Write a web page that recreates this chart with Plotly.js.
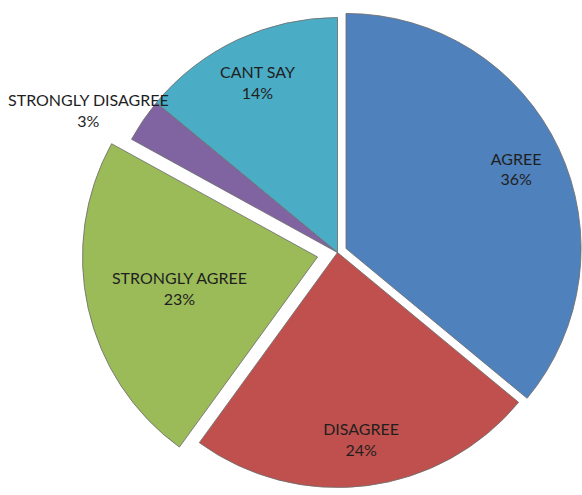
<!DOCTYPE html>
<html>
<head>
<meta charset="utf-8">
<script src="https://cdn.plot.ly/plotly-3.0.1.min.js"></script>
<style>
  html, body { margin: 0; padding: 0; overflow: hidden; background: #ffffff; width: 582px; height: 495px; }
  #chart { position: absolute; left: 0; top: -3px; width: 675px; height: 511px; }
</style>
</head>
<body>
<div id="chart"></div>
<script>
// Data
const labels = ["AGREE", "DISAGREE", "STRONGLY AGREE", "STRONGLY DISAGREE", "CANT SAY"];
const percents = [36, 24, 23, 3, 14];
const colors = ["#4F81BD", "#C0504D", "#9BBB59", "#8064A2", "#4BACC6"];
const pulls = [0.04, 0, 0.087, 0, 0];
// which label is drawn by which layer (solid pie / outer ring / free label)
const labelLayer = ["ring", "ring", "pie", "free", "ring"];

const fontFamily = "Lato, 'Open Sans', sans-serif";
const textColor = "#1f1f1f";
const tpl = (layer) => labelLayer.map(l => l === layer ? "%{label}<br>%{percent:.0%}" : "");

const pieTrace = {
  type: "pie",
  labels: labels,
  values: percents,
  sort: false,
  direction: "clockwise",
  rotation: 0,
  pull: pulls,
  marker: { colors: colors, line: { color: "rgba(110,110,110,0.85)", width: 1 } },
  texttemplate: tpl("pie"),
  textposition: "inside",
  insidetextorientation: "horizontal",
  textfont: { family: fontFamily, size: 16, color: textColor },
  hoverinfo: "label+percent",
  domain: { x: [0, 1], y: [0, 1] }
};

// transparent ring on top, used only to place labels nearer the rim
const ringTrace = {
  type: "pie",
  labels: labels,
  values: percents,
  sort: false,
  direction: "clockwise",
  rotation: 0,
  pull: pulls,
  hole: 0.6,
  marker: { colors: labels.map(() => "rgba(0,0,0,0)"), line: { width: 0 } },
  texttemplate: tpl("ring"),
  textposition: "inside",
  insidetextorientation: "horizontal",
  textfont: { family: fontFamily, size: 16, color: textColor },
  hoverinfo: "skip",
  domain: { x: [0, 1], y: [0, 1] }
};

const freeIdx = labelLayer.indexOf("free");
const total = percents.reduce((a, b) => a + b, 0);

const layout = {
  width: 675,
  height: 511,
  margin: { l: 0, r: 0, t: 0, b: 0 },
  showlegend: false,
  paper_bgcolor: "#ffffff",
  plot_bgcolor: "#ffffff",
  annotations: [{
    xref: "paper", yref: "paper",
    x: 0.131, y: 0.778,
    xanchor: "center", yanchor: "middle",
    align: "center",
    showarrow: false,
    text: labels[freeIdx] + "<br>" + Math.round(percents[freeIdx] / total * 100) + "%",
    font: { family: fontFamily, size: 16, color: textColor }
  }]
};

Plotly.newPlot("chart", [pieTrace, ringTrace], layout, { displayModeBar: false, staticPlot: true });
</script>
</body>
</html>
